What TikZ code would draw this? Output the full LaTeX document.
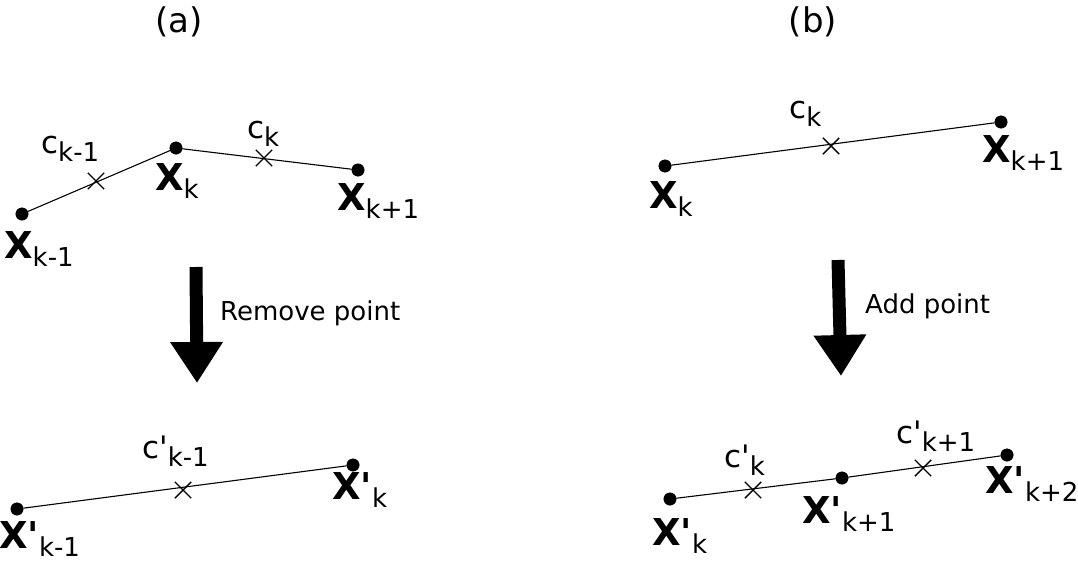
\documentclass[tikz,border=0pt]{standalone}
\usepackage{fontspec}
\usepackage{tikz}
\usetikzlibrary{arrows.meta,shapes.misc,positioning}
\newfontfamily\figfont{DejaVu Sans}
\newcommand\ptlab[2]{{\fontsize{37}{37}\selectfont\bfseries X#1}\raisebox{-8pt}{\fontsize{26}{26}\selectfont #2}}
\newcommand\ctrlab[2]{{\fontsize{31}{31}\selectfont c#1}\raisebox{-8pt}{\fontsize{26}{26}\selectfont #2}}
\tikzset{
  vertex/.style={
    inner sep = 0pt,
    minimum size = 12.5pt,
    shape = circle,
    draw,
    fill
  },
}
\tikzset{
  ctrl/.style={
    inner sep = 0pt,
    minimum size = 15pt,
    shape = cross out,
    draw,
    line width = 1.4pt
  },
}
\tikzset{
  seg/.style={
    line width = 1.1pt
  },
  lab/.style={
    anchor = base west,
    inner sep = 0pt
  },
  caption/.style={
    anchor = base,
    inner sep = 0pt,
    font = \figfont\fontsize{34}{34}\selectfont
  },
  step_text/.style={
    anchor = base west,
    inner sep = 0pt,
    font = \figfont\fontsize{26}{26}\selectfont
  },
  bigarrow/.style={
    line width = 13pt,
    -{Triangle[width=50pt,length=41pt]}
  }
}

\begin{document}
\begin{tikzpicture}[x=1pt,y=-1pt,font=\figfont]
        \useasboundingbox (0,0) rectangle (1078,562);

        % (a) remove a point
        \node[caption] (capa) at (179,32) {(a)};

        \node[vertex] (xa1) at (22,214) {};
        \node[vertex] (xa2) at (176,148) {};
        \node[vertex] (xa3) at (358,170) {};
        \draw[seg] (xa1) -- (xa2) -- (xa3);
        \node[ctrl] (ca1) at (96,181) {};
        \node[ctrl] (ca2) at (264,158) {};

        \node[lab] (lxa1) at (4,258) {\ptlab{}{k-1}};
        \node[lab] (lxa2) at (155,190) {\ptlab{}{k}};
        \node[lab] (lxa3) at (337,210) {\ptlab{}{k+1}};
        \node[lab] (lca1) at (41,153) {\ctrlab{}{k-1}};
        \node[lab] (lca2) at (247,138) {\ctrlab{}{k}};

        \coordinate (arra0) at (196,267);
        \coordinate (arra1) at (197,383);
        \draw[bigarrow] (arra0) -- (arra1);
        \node[step_text] (rem) at (220,320) {Remove point};

        \node[vertex] (ya1) at (17,509) {};
        \node[vertex] (ya2) at (353,465) {};
        \draw[seg] (ya1) -- (ya2);
        \node[ctrl] (da1) at (183,490) {};

        \node[lab] (lya1) at (-1,548) {\ptlab{'}{k-1}};
        \node[lab] (lya2) at (332,499) {\ptlab{'}{k}};
        \node[lab] (lda1) at (142,458) {\ctrlab{'}{k-1}};

        % (b) add a point
        \node[caption] (capb) at (813,32) {(b)};

        \node[vertex] (xb1) at (665,166) {};
        \node[vertex] (xb2) at (1001,122) {};
        \draw[seg] (xb1) -- (xb2);
        \node[ctrl] (cb1) at (831,146) {};

        \node[lab] (lxb1) at (649,208) {\ptlab{}{k}};
        \node[lab] (lxb2) at (982,162) {\ptlab{}{k+1}};
        \node[lab] (lcb1) at (789,118) {\ctrlab{}{k}};

        \coordinate (arrb0) at (838,260);
        \coordinate (arrb1) at (841,376);
        \draw[bigarrow] (arrb0) -- (arrb1);
        \node[step_text] (add) at (865,313) {Add point};

        \node[vertex] (yb1) at (670,499) {};
        \node[vertex] (yb2) at (842,478) {};
        \node[vertex] (yb3) at (1007,455) {};
        \draw[seg] (yb1) -- (yb2) -- (yb3);
        \node[ctrl] (db1) at (753,490) {};
        \node[ctrl] (db2) at (923,468) {};

        \node[lab] (lyb1) at (652,545) {\ptlab{'}{k}};
        \node[lab] (lyb2) at (802,523) {\ptlab{'}{k+1}};
        \node[lab] (lyb3) at (985,493) {\ptlab{'}{k+2}};
        \node[lab] (ldb1) at (724,467) {\ctrlab{'}{k}};
        \node[lab] (ldb2) at (896,443) {\ctrlab{'}{k+1}};
\end{tikzpicture}
\end{document}
